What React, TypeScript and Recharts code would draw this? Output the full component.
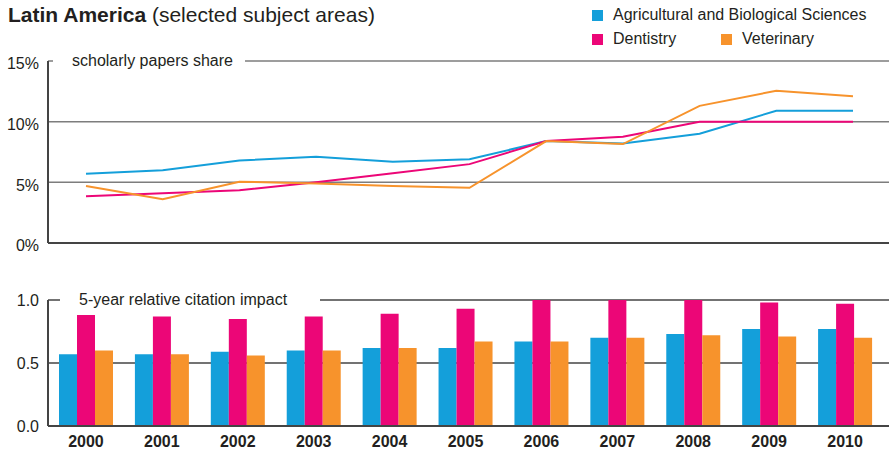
import {
  LineChart,
  Line,
  BarChart,
  Bar,
  XAxis,
  YAxis,
  CartesianGrid,
} from "recharts";

const years = ["2000", "2001", "2002", "2003", "2004", "2005", "2006", "2007", "2008", "2009", "2010"];

// scholarly papers share (%)
const agriShare = [5.7, 6.0, 6.8, 7.1, 6.7, 6.9, 8.4, 8.2, 9.0, 10.9, 10.9];
const dentShare = [3.85, 4.1, 4.35, 5.0, 5.75, 6.5, 8.4, 8.75, 10.0, 10.0, 10.0];
const vetShare = [4.7, 3.6, 5.05, 4.9, 4.7, 4.55, 8.4, 8.15, 11.3, 12.55, 12.1];

// 5-year relative citation impact
const agriImpact = [0.57, 0.57, 0.59, 0.6, 0.62, 0.62, 0.67, 0.7, 0.73, 0.77, 0.77];
const dentImpact = [0.88, 0.87, 0.85, 0.87, 0.89, 0.93, 1.0, 1.0, 1.0, 0.98, 0.97];
const vetImpact = [0.6, 0.57, 0.56, 0.6, 0.62, 0.67, 0.67, 0.7, 0.72, 0.71, 0.7];

const shareTicks = [0, 5, 10, 15];
const impactTicks = [0, 0.5, 1.0];

const BLUE = "#149fda";
const PINK = "#ec0677";
const ORANGE = "#f7932c";
const TEXT = "#231f20";
const GRID = "#7d7d7d";
const AXIS = "#444444";
const FONT = "'Liberation Sans', Arial, Helvetica, sans-serif";

const shareData = years.map((y, i) => ({
  year: y,
  agri: agriShare[i],
  dent: dentShare[i],
  vet: vetShare[i],
}));

const impactData = years.map((y, i) => ({
  year: y,
  agri: agriImpact[i],
  dent: dentImpact[i],
  vet: vetImpact[i],
}));

// y tick with the panel caption sitting on the top gridline
const makeTick =
  (top: number, caption: string, gapStart: number, gapEnd: number, capX: number, dy: number, fmt: (v: number) => string) =>
  (props: any) => {
    const { x, y, payload } = props;
    const axisX = x + 9;
    const isTop = payload.value === top;
    return (
      <g>
        {isTop && (
          <>
            <rect x={axisX + gapStart} y={y - 3} width={gapEnd - axisX - gapStart} height={6} fill="#fff" />
            <text x={axisX + capX} y={y + 5} fontSize={16} fill={TEXT} fontFamily={FONT}>
              {caption}
            </text>
          </>
        )}
        <text x={x} y={y + dy} textAnchor="end" dominantBaseline="middle" fontSize={16} fill={TEXT} fontFamily={FONT}>
          {fmt(payload.value)}
        </text>
      </g>
    );
  };

const ShareTick = makeTick(15, "scholarly papers share", 5, 245, 24, 4, (v) => `${v}%`);
const ImpactTick = makeTick(1, "5-year relative citation impact", 12, 320, 31, 1.5, (v) => v.toFixed(1));

const legendItems = [
  { label: "Agricultural and Biological Sciences", color: BLUE, left: 592, top: 6 },
  { label: "Dentistry", color: PINK, left: 592, top: 30 },
  { label: "Veterinary", color: ORANGE, left: 721, top: 30 },
];

export default function App() {
  return (
    <div style={{ position: "absolute", left: 0, top: 0, width: 889, height: 454, background: "#fff", fontFamily: FONT, color: TEXT }}>
      <div style={{ position: "absolute", left: 8, top: 3, fontSize: 21, whiteSpace: "nowrap" }}>
        <b>Latin America</b> (selected subject areas)
      </div>
      {legendItems.map((it) => (
        <div key={it.label} style={{ position: "absolute", left: it.left, top: it.top, display: "flex", alignItems: "center", fontSize: 16, whiteSpace: "nowrap" }}>
          <span style={{ width: 11, height: 11, background: it.color, display: "inline-block", marginRight: 10 }} />
          <span>{it.label}</span>
        </div>
      ))}

      <div style={{ position: "absolute", left: 0, top: 0 }}>
        <LineChart width={889} height={260} data={shareData} margin={{ top: 61, right: 0, bottom: 0, left: 0 }}>
          <CartesianGrid vertical={false} horizontalValues={[5, 10, 15]} stroke={GRID} strokeWidth={1.5} />
          <XAxis dataKey="year" height={17} tick={false} tickLine={false} axisLine={{ stroke: AXIS, strokeWidth: 2 }} padding={{ left: 38, right: 36 }} />
          <YAxis
            width={48}
            domain={[0, 15]}
            ticks={shareTicks}
            interval={0}
            tickLine={false}
            tickSize={0}
            tickMargin={9}
            axisLine={{ stroke: AXIS, strokeWidth: 2 }}
            tick={ShareTick}
          />
          <Line dataKey="agri" stroke={BLUE} strokeWidth={2} dot={false} isAnimationActive={false} />
          <Line dataKey="dent" stroke={PINK} strokeWidth={2} dot={false} isAnimationActive={false} />
          <Line dataKey="vet" stroke={ORANGE} strokeWidth={2} dot={false} isAnimationActive={false} />
        </LineChart>
      </div>

      <div style={{ position: "absolute", left: 0, top: 270 }}>
        <BarChart width={889} height={184} data={impactData} margin={{ top: 30, right: 0, bottom: 0, left: 0 }} barGap={0} barSize={18}>
          <CartesianGrid vertical={false} horizontalValues={[0.5, 1.0]} stroke={AXIS} strokeWidth={1.5} />
          <XAxis
            dataKey="year"
            height={28}
            tickLine={false}
            tickSize={0}
            tickMargin={10}
            interval={0}
            padding={{ left: 0, right: 6 }}
            axisLine={{ stroke: AXIS, strokeWidth: 2 }}
            tick={{ fontSize: 16, fontWeight: 700, fill: TEXT, fontFamily: FONT }}
          />
          <YAxis
            width={48}
            domain={[0, 1]}
            allowDataOverflow
            ticks={impactTicks}
            interval={0}
            tickLine={false}
            tickSize={0}
            tickMargin={9}
            axisLine={{ stroke: AXIS, strokeWidth: 2 }}
            tick={ImpactTick}
          />
          <Bar dataKey="agri" fill={BLUE} isAnimationActive={false} />
          <Bar dataKey="dent" fill={PINK} isAnimationActive={false} />
          <Bar dataKey="vet" fill={ORANGE} isAnimationActive={false} />
        </BarChart>
      </div>
    </div>
  );
}
